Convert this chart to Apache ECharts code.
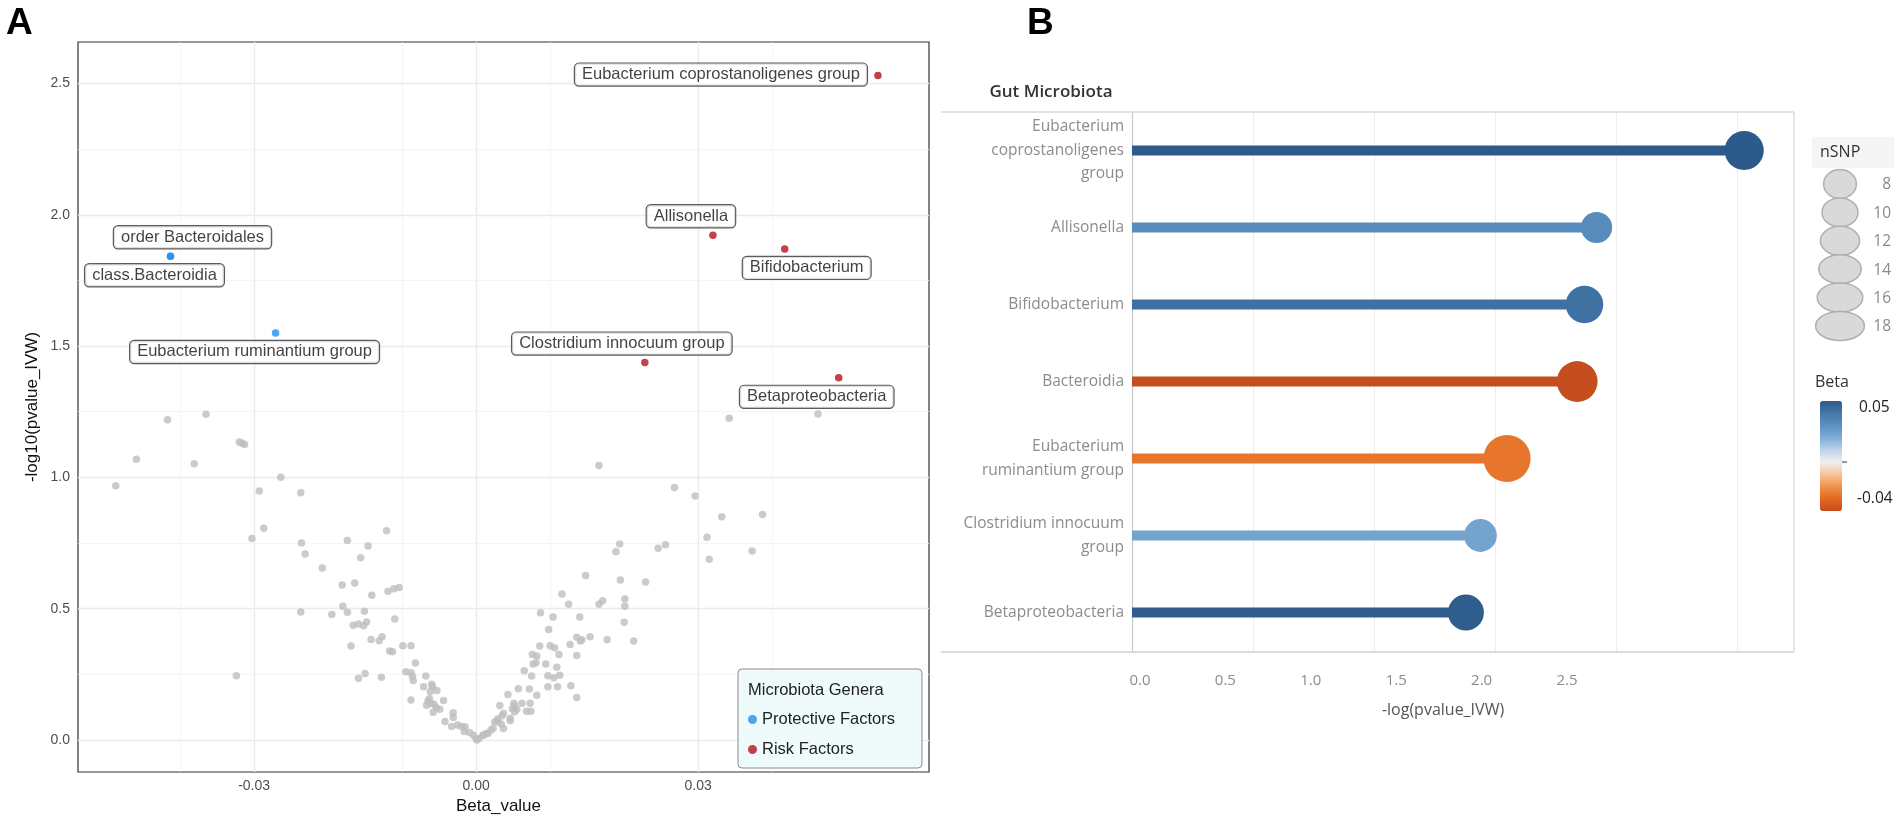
<!DOCTYPE html>
<html><head><meta charset="utf-8">
<script src="https://cdn.jsdelivr.net/npm/echarts@6/dist/echarts.min.js"></script>
<style>html,body{margin:0;padding:0;background:#fff}#c{width:1902px;height:821px}</style>
</head><body><div id="c"></div>
<script>
// ---------- Panel A data ----------
const otherBeta = [-0.0487,-0.0459,-0.0417,-0.0381,-0.0365,-0.0320,-0.0316,-0.0313,-0.0264,-0.0293,-0.0237,
 -0.0303,-0.0287,-0.0236,-0.0231,-0.0208,-0.0174,-0.0146,-0.0156,-0.0121,-0.0181,-0.0164,-0.0141,-0.0119,-0.0111,-0.0104,
 -0.0180,-0.0174,-0.0237,-0.0195,-0.0151,-0.0166,-0.0159,-0.0152,-0.0148,-0.0110,-0.0169,-0.0142,-0.0131,-0.0127,-0.0117,-0.0113,
 -0.0324,-0.0159,-0.0150,-0.0128,-0.0099,-0.0088,-0.0082,-0.0095,-0.0088,-0.0086,-0.0085,-0.0088,
 -0.0068,-0.0071,-0.0060,-0.0059,-0.0062,-0.0053,-0.0044,-0.0063,-0.0065,-0.0061,-0.0067,-0.0057,-0.0054,-0.0049,-0.0058,
 -0.0042,-0.0031,-0.0031,-0.0033,-0.0025,-0.0020,-0.0016,-0.0015,-0.0009,-0.0004,0.0000,
 0.0001,0.0004,0.0009,0.0014,0.0010,0.0016,0.0020,0.0023,0.0029,0.0037,
 0.0037,0.0035,0.0046,0.0029,0.0025,0.0034,0.0046,0.0032,0.0051,0.0052,0.0049,0.0055,0.0052,0.0062,0.0073,0.0068,0.0074,
 0.0043,0.0082,0.0057,0.0072,0.0136,0.0097,0.0110,0.0128,0.0065,0.0075,0.0097,0.0105,0.0113,
 0.0077,0.0081,0.0094,0.0109,0.0076,0.0082,0.0112,0.0136,0.0086,0.0100,0.0106,0.0127,
 0.0136,0.0141,0.0143,0.0154,0.0177,0.0213,0.0098,0.0200,0.0087,0.0104,0.0140,
 0.0125,0.0166,0.0171,0.0201,0.0201,0.0116,0.0229,0.0195,0.0148,0.0189,0.0194,0.0246,0.0256,
 0.0312,0.0315,0.0373,0.0332,0.0387,0.0296,0.0268,0.0166,0.0342,0.0462];
const otherLogP = [0.968,1.069,1.219,1.052,1.240,1.135,1.130,1.125,1.000,0.948,0.941,
 0.767,0.806,0.750,0.708,0.655,0.760,0.739,0.694,0.797,0.590,0.598,0.551,0.566,0.576,0.581,
 0.509,0.486,0.487,0.478,0.490,0.437,0.442,0.435,0.449,0.461,0.358,0.383,0.378,0.393,0.339,0.336,
 0.245,0.235,0.253,0.239,0.359,0.359,0.293,0.260,0.256,0.243,0.226,0.152,
 0.244,0.203,0.212,0.203,0.184,0.188,0.150,0.157,0.148,0.140,0.132,0.136,0.124,0.117,0.106,
 0.070,0.104,0.086,0.051,0.057,0.051,0.032,0.050,0.028,0.019,0.006,
 0.000,0.006,0.018,0.025,0.018,0.025,0.038,0.044,0.070,0.044,
 0.102,0.092,0.083,0.080,0.068,0.061,0.073,0.131,0.140,0.129,0.119,0.117,0.107,0.140,0.140,0.109,0.109,
 0.173,0.170,0.195,0.194,0.162,0.203,0.203,0.206,0.264,0.244,0.245,0.237,0.246,
 0.289,0.294,0.289,0.277,0.325,0.320,0.325,0.322,0.358,0.359,0.351,0.364,
 0.391,0.377,0.382,0.393,0.382,0.377,0.421,0.448,0.484,0.468,0.468,
 0.517,0.517,0.530,0.537,0.509,0.556,0.602,0.609,0.626,0.717,0.746,0.730,0.743,
 0.772,0.688,0.720,0.850,0.859,0.929,0.961,1.045,1.225,1.241];

const protectiveNames = ['order Bacteroidales','class.Bacteroidia','Eubacterium ruminantium group'];
const protectiveBeta  = [-0.0413,-0.0413,-0.0271];
const protectiveLogP  = [1.842,1.842,1.550];
const riskNames = ['Eubacterium coprostanoligenes group','Allisonella','Bifidobacterium','Clostridium innocuum group','Betaproteobacteria'];
const riskBeta  = [0.0543,0.0320,0.0417,0.0228,0.0490];
const riskLogP  = [2.530,1.922,1.870,1.437,1.379];

const xMajorA = [-0.03,0,0.03];
const xMinorA = [-0.045,-0.015,0.015,0.045];
const yMajorA = [0,0.5,1,1.5,2,2.5];
const yMinorA = [0.25,0.75,1.25,1.75,2.25];

// ---------- Panel B data ----------
const gutCategories = ['Eubacterium coprostanoligenes group','Allisonella','Bifidobacterium','Bacteroidia','Eubacterium ruminantium group','Clostridium innocuum group','Betaproteobacteria'];
const gutLogP = [2.53,1.92,1.87,1.84,1.55,1.44,1.38];
const gutBeta = [0.054,0.032,0.042,-0.041,-0.027,0.023,0.049];
const gutNSNP = [12,7,11,13,17,8,10];
const nsnpLegend = [8,10,12,14,16,18];
const xTicksB = [0,0.5,1,1.5,2,2.5];
const betaRange = [-0.04,0.05];

// ---------- layout / styles ----------
const labelOffsets = {
  'order Bacteroidales':[22,-19], 'class.Bacteroidia':[-16,19], 'Eubacterium ruminantium group':[-21,19],
  'Eubacterium coprostanoligenes group':[-157,-1], 'Allisonella':[-22,-19], 'Bifidobacterium':[22,19],
  'Clostridium innocuum group':[-23,-19], 'Betaproteobacteria':[-22,19]
};
const wrapLabels = {
  'Eubacterium coprostanoligenes group':'Eubacterium\ncoprostanoligenes\ngroup',
  'Eubacterium ruminantium group':'Eubacterium\nruminantium group',
  'Clostridium innocuum group':'Clostridium innocuum\ngroup'
};
const sizeOf = n => 20 + 1.6*n;
const clampB = v => Math.max(betaRange[0], Math.min(betaRange[1], v));
const FA = '"Liberation Sans", Arial, sans-serif';
const FB = '"Open Sans", "Noto Sans", sans-serif';

const boxLabel = {show:true, position:'inside', formatter:'{b}', color:'#111', fontFamily:FA, fontSize:16.5,
  backgroundColor:'#fff', borderColor:'#333', borderWidth:1.2, borderRadius:4, padding:[3,7,2,7]};

function labeled(names, xs, ys){
  return names.map((n,i)=>({name:n, value:[xs[i], ys[i]], label:{offset:labelOffsets[n]}}));
}
const gridLineData = [
  ...xMinorA.map(v=>({xAxis:v, lineStyle:{color:'#f2f2f2', width:0.8, type:'solid'}})),
  ...yMinorA.map(v=>({yAxis:v, lineStyle:{color:'#f2f2f2', width:0.8, type:'solid'}})),
  ...xMajorA.map(v=>({xAxis:v, lineStyle:{color:'#ebebeb', width:1.4, type:'solid'}})),
  ...yMajorA.map(v=>({yAxis:v, lineStyle:{color:'#ebebeb', width:1.4, type:'solid'}}))
];

const gutData = gutCategories.map((c,i)=>[gutLogP[i], c, clampB(gutBeta[i]), gutNSNP[i]]);

// legend graphics for nSNP
const nsnpGraphics = [];
nsnpLegend.forEach((n,i)=>{
  const cy = 184 + i*28.4;
  nsnpGraphics.push({type:'ellipse', z:100, shape:{cx:1840, cy:cy, rx:sizeOf(n)/2, ry:14.5},
    style:{fill:'#d9d9d9', stroke:'#b0b0b0', lineWidth:1.5}});
  nsnpGraphics.push({type:'text', z:101, x:1891, y:cy+1, style:{text:String(n), fill:'#8a8a8a',
    font:'15.5px '+FB, align:'right', verticalAlign:'middle'}});
});

const chart = echarts.init(document.getElementById('c'));
chart.setOption({
  animation:false,
  backgroundColor:'#fff',
  grid:[
    {left:78, top:42, width:851, height:730, show:true, borderColor:'#333', borderWidth:1.2, backgroundColor:'transparent'},
    {left:1132, top:112, width:662, height:539}
  ],
  xAxis:[
    {gridIndex:0, type:'value', min:-0.0538, max:0.0612, splitLine:{show:false}, axisLine:{show:false},
     axisTick:{show:true, length:4, lineStyle:{color:'#333'}, customValues:xMajorA},
     axisLabel:{customValues:xMajorA, formatter:v=>v.toFixed(2), color:'#4d4d4d', fontSize:14, fontFamily:FA, margin:7},
     name:'Beta_value', nameLocation:'middle', nameGap:22,
     nameTextStyle:{color:'#111', fontSize:17, fontFamily:FA, padding:[0,10,0,0]}},
    {gridIndex:1, type:'value', min:0, max:2.736, interval:0.5, axisLine:{show:false}, axisTick:{show:false},
     axisLabel:{show:false}, splitLine:{show:true, lineStyle:{color:'#ededed', width:1}}},
    {gridIndex:1, type:'value', position:'bottom', min:-0.0468, max:3.829, axisLine:{show:false}, axisTick:{show:false},
     splitLine:{show:false},
     axisLabel:{customValues:xTicksB, formatter:v=>v.toFixed(1), color:'#8c8c8c', fontSize:15, fontFamily:FB, margin:22},
     name:'-log(pvalue_IVW)', nameLocation:'middle', nameGap:51,
     nameTextStyle:{color:'#555', fontSize:16, fontFamily:FB, padding:[0,40,0,0]}}
  ],
  yAxis:[
    {gridIndex:0, type:'value', min:-0.122, max:2.658, splitLine:{show:false}, axisLine:{show:false},
     axisTick:{show:true, length:4, lineStyle:{color:'#333'}, customValues:yMajorA},
     axisLabel:{customValues:yMajorA, formatter:v=>v.toFixed(1), color:'#4d4d4d', fontSize:14, fontFamily:FA, margin:8},
     name:'-log10(pvalue_IVW)', nameLocation:'middle', nameGap:37, nameTextStyle:{color:'#111', fontSize:17, fontFamily:FA}},
    {gridIndex:1, type:'category', data:gutCategories, inverse:true,
     axisLine:{show:true, lineStyle:{color:'#c8c8c8', width:1.2}}, axisTick:{show:false}, splitLine:{show:false},
     axisLabel:{formatter:v=>wrapLabels[v]||v, color:'#8c8c8c', fontSize:15.5, lineHeight:23.5, fontFamily:FB, margin:8, align:'right'}}
  ],
  legend:{
    data:['Protective Factors','Risk Factors'], orient:'vertical', left:738, top:669,
    padding:[42,27,10,10], itemGap:13, icon:'circle', itemWidth:9, itemHeight:9,
    textStyle:{color:'#222', fontSize:16.5, fontFamily:FA},
    backgroundColor:'#effafa', borderColor:'#8a8a8a', borderWidth:1, borderRadius:4
  },
  visualMap:{
    type:'continuous', min:betaRange[0], max:betaRange[1], dimension:2, seriesIndex:[4,5],
    inRange:{color:['#c44e1d','#e3691f','#f0924a','#f5c49a','#f0efed','#bcd3e8','#7eacd4','#5c91c1','#4577a9','#2b5a8b']},
    left:1820, top:401, itemWidth:22, itemHeight:110, calculable:false, padding:0, orient:'vertical'
  },
  series:[
    {type:'scatter', xAxisIndex:0, yAxisIndex:0, data:[], z:1, silent:true,
     markLine:{z:1, silent:true, symbol:['none','none'], label:{show:false}, animation:false, data:gridLineData}},
    {type:'scatter', name:'others', xAxisIndex:0, yAxisIndex:0, z:3, symbolSize:7.5,
     itemStyle:{color:'#bebebe'}, data:otherBeta.map((b,i)=>[b, otherLogP[i]])},
    {type:'scatter', name:'Protective Factors', xAxisIndex:0, yAxisIndex:0, z:4, symbolSize:7.5,
     itemStyle:{color:'#1e90f0'}, label:boxLabel, data:labeled(protectiveNames, protectiveBeta, protectiveLogP)},
    {type:'scatter', name:'Risk Factors', xAxisIndex:0, yAxisIndex:0, z:4, symbolSize:7.5,
     itemStyle:{color:'#b5121b'}, label:boxLabel, data:labeled(riskNames, riskBeta, riskLogP)},
    {type:'bar', xAxisIndex:1, yAxisIndex:1, barWidth:10, z:2, encode:{x:0, y:1}, data:gutData},
    {type:'scatter', xAxisIndex:1, yAxisIndex:1, z:3, encode:{x:0, y:1}, data:gutData,
     symbolSize:v=>sizeOf(v[3]), itemStyle:{opacity:1}}
  ],
  graphic:[
    {type:'text', z:100, x:6, y:5, style:{text:'A', font:'bold 37px '+FA, fill:'#000'}},
    {type:'text', z:100, x:1027, y:5, style:{text:'B', font:'bold 37px '+FA, fill:'#000'}},
    {type:'text', z:100, x:748, y:690, style:{text:'Microbiota Genera', font:'16.5px '+FA, fill:'#222', verticalAlign:'middle'}},
    {type:'text', z:100, x:1051, y:92, style:{text:'Gut Microbiota', font:'600 17px '+FB, fill:'#333', align:'center', verticalAlign:'middle'}},
    {type:'line', z:100, shape:{x1:941, y1:112, x2:1794, y2:112}, style:{stroke:'#d9d9d9', lineWidth:1.5}},
    {type:'line', z:100, shape:{x1:941, y1:652, x2:1794, y2:652}, style:{stroke:'#cfcfcf', lineWidth:1.5}},
    {type:'line', z:100, shape:{x1:1794, y1:112, x2:1794, y2:652}, style:{stroke:'#e2e2e2', lineWidth:1.5}},
    {type:'rect', z:99, shape:{x:1812, y:137, width:82, height:31}, style:{fill:'#f5f5f5'}},
    {type:'text', z:100, x:1820, y:152, style:{text:'nSNP', font:'16px '+FB, fill:'#333', verticalAlign:'middle'}},
    ...nsnpGraphics,
    {type:'text', z:100, x:1815, y:382, style:{text:'Beta', font:'16px '+FB, fill:'#333', verticalAlign:'middle'}},
    {type:'text', z:100, x:1859, y:408, style:{text:'0.05', font:'15.5px '+FB, fill:'#222', verticalAlign:'middle'}},
    {type:'text', z:100, x:1857, y:499, style:{text:'-0.04', font:'15.5px '+FB, fill:'#222', verticalAlign:'middle'}},
    {type:'line', z:100, shape:{x1:1842, y1:462, x2:1847, y2:462}, style:{stroke:'#333', lineWidth:1}}
  ]
});
</script></body></html>
